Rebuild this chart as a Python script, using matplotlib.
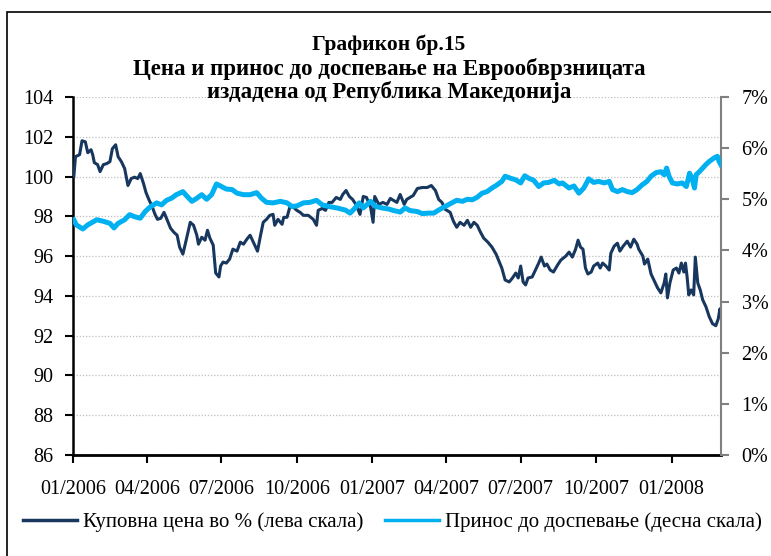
import matplotlib
matplotlib.use("Agg")
import matplotlib.pyplot as plt
import matplotlib.dates as mdates
from matplotlib.ticker import FuncFormatter
from matplotlib.lines import Line2D
import pandas as pd

plt.rcParams['font.family'] = ['Liberation Serif', 'DejaVu Serif']

title_lines = ["Графикон бр.15",
               "Цена и принос до доспевање на Еврообврзницата",
               "издадена од Република Македонија"]
price_label = "Куповна цена во % (лева скала)"
yield_label = "Принос до доспевање (десна скала)"

price_dates = [
    "2006-01-02", "2006-01-04", "2006-01-09", "2006-01-12", "2006-01-16", "2006-01-19", "2006-01-23", "2006-01-25",
    "2006-01-27", "2006-01-31", "2006-02-03", "2006-02-07", "2006-02-11", "2006-02-15", "2006-02-18", "2006-02-22",
    "2006-02-25", "2006-03-01", "2006-03-05", "2006-03-09", "2006-03-13", "2006-03-17", "2006-03-21", "2006-03-24",
    "2006-03-28", "2006-03-31", "2006-04-04", "2006-04-07", "2006-04-11", "2006-04-14", "2006-04-18", "2006-04-22",
    "2006-04-26", "2006-04-30", "2006-05-04", "2006-05-08", "2006-05-11", "2006-05-15", "2006-05-19", "2006-05-24",
    "2006-05-28", "2006-06-01", "2006-06-03", "2006-06-07", "2006-06-11", "2006-06-14", "2006-06-17", "2006-06-21",
    "2006-06-24", "2006-06-28", "2006-06-30", "2006-07-03", "2006-07-07", "2006-07-11", "2006-07-15", "2006-07-20",
    "2006-07-24", "2006-07-28", "2006-08-01", "2006-08-05", "2006-08-09", "2006-08-14", "2006-08-18", "2006-08-21",
    "2006-08-25", "2006-08-29", "2006-09-02", "2006-09-04", "2006-09-08", "2006-09-13", "2006-09-15", "2006-09-19",
    "2006-09-23", "2006-09-27", "2006-10-01", "2006-10-05", "2006-10-09", "2006-10-15", "2006-10-21", "2006-10-25",
    "2006-10-27", "2006-11-01", "2006-11-05", "2006-11-09", "2006-11-13", "2006-11-18", "2006-11-23", "2006-11-26",
    "2006-11-30", "2006-12-04", "2006-12-08", "2006-12-12", "2006-12-17", "2006-12-21", "2006-12-25", "2006-12-30",
    "2007-01-02", "2007-01-04", "2007-01-09", "2007-01-14", "2007-01-19", "2007-01-23", "2007-01-27", "2007-01-31",
    "2007-02-04", "2007-02-09", "2007-02-12", "2007-02-16", "2007-02-20", "2007-02-25", "2007-03-03", "2007-03-09",
    "2007-03-14", "2007-03-19", "2007-03-23", "2007-03-27", "2007-03-31", "2007-04-06", "2007-04-10", "2007-04-14",
    "2007-04-18", "2007-04-23", "2007-04-27", "2007-05-01", "2007-05-05", "2007-05-09", "2007-05-13", "2007-05-17",
    "2007-05-22", "2007-05-27", "2007-06-01", "2007-06-04", "2007-06-08", "2007-06-12", "2007-06-17", "2007-06-21",
    "2007-06-25", "2007-06-28", "2007-07-01", "2007-07-04", "2007-07-07", "2007-07-10", "2007-07-15", "2007-07-19",
    "2007-07-23", "2007-07-26", "2007-07-30", "2007-08-02", "2007-08-06", "2007-08-10", "2007-08-15", "2007-08-19",
    "2007-08-25", "2007-08-29", "2007-09-02", "2007-09-06", "2007-09-09", "2007-09-12", "2007-09-15", "2007-09-18",
    "2007-09-21", "2007-09-25", "2007-09-28", "2007-10-03", "2007-10-06", "2007-10-09", "2007-10-13", "2007-10-17",
    "2007-10-19", "2007-10-23", "2007-10-27", "2007-10-30", "2007-11-03", "2007-11-08", "2007-11-12", "2007-11-16",
    "2007-11-20", "2007-11-22", "2007-11-27", "2007-11-29", "2007-12-03", "2007-12-07", "2007-12-11", "2007-12-15",
    "2007-12-19", "2007-12-23", "2007-12-25", "2007-12-27", "2007-12-30", "2008-01-03", "2008-01-07", "2008-01-10",
    "2008-01-13", "2008-01-16", "2008-01-18", "2008-01-20", "2008-01-22", "2008-01-25", "2008-01-28", "2008-01-30",
    "2008-02-02", "2008-02-05", "2008-02-08", "2008-02-12", "2008-02-16", "2008-02-20", "2008-02-24", "2008-02-27",
    "2008-02-29", "2008-03-01",
]
price_values = [
    100.0, 101.0, 101.1, 101.8, 101.75, 101.2, 101.35, 101.1,
    100.7, 100.6, 100.25, 100.6, 100.65, 100.75, 101.4, 101.6,
    101.0, 100.75, 100.4, 99.55, 99.9, 99.97, 99.9, 100.15,
    99.65, 99.2, 98.8, 98.55, 98.1, 97.85, 97.9, 98.2,
    97.8, 97.4, 97.2, 97.05, 96.45, 96.1, 96.8, 97.7,
    97.55, 97.05, 96.6, 96.95, 96.8, 97.3, 96.9, 96.55,
    95.15, 94.95, 95.5, 95.7, 95.65, 95.85, 96.35, 96.25,
    96.7, 96.6, 96.85, 97.05, 96.7, 96.25, 97.1, 97.7,
    97.85, 98.05, 98.1, 97.55, 97.85, 97.6, 97.95, 97.95,
    98.55, 98.45, 98.3, 98.2, 98.05, 98.05, 97.85, 97.55,
    98.3, 98.4, 98.3, 98.7, 98.7, 98.95, 98.85, 99.1,
    99.3, 99.0, 98.85, 98.6, 98.1, 99.0, 98.95, 98.45,
    97.7, 99.0, 98.6, 98.7, 98.6, 98.9, 98.8, 98.7,
    99.1, 98.6, 98.85, 98.95, 99.05, 99.4, 99.45, 99.45,
    99.55, 99.3, 98.85, 98.7, 98.35, 98.2, 97.75, 97.45,
    97.7, 97.55, 97.8, 97.45, 97.7, 97.55, 97.2, 96.9,
    96.7, 96.45, 96.1, 95.8, 95.4, 94.8, 94.7, 94.9,
    95.15, 94.9, 95.5, 94.7, 94.55, 94.9, 94.95, 95.3,
    95.65, 95.95, 95.5, 95.6, 95.3, 95.2, 95.55, 95.8,
    96.0, 96.2, 95.95, 96.35, 96.8, 96.45, 96.35, 95.4,
    95.1, 95.2, 95.5, 95.65, 95.4, 95.65, 95.5, 95.3,
    96.15, 96.5, 96.65, 96.25, 96.5, 96.75, 96.45, 96.85,
    96.6, 96.35, 96.0, 95.6, 95.85, 95.1, 94.75, 94.4,
    94.15, 94.65, 95.1, 93.9, 94.65, 95.3, 95.4, 95.15,
    95.65, 95.2, 95.65, 94.95, 94.05, 94.3, 94.05, 95.95,
    94.65, 94.3, 93.8, 93.45, 92.95, 92.6, 92.5, 92.85,
    93.35, 93.1,
]

yield_dates = [
    "2006-01-02", "2006-01-05", "2006-01-13", "2006-01-19", "2006-01-30", "2006-02-07", "2006-02-15", "2006-02-20",
    "2006-02-25", "2006-03-05", "2006-03-11", "2006-03-17", "2006-03-24", "2006-03-30", "2006-04-05", "2006-04-13",
    "2006-04-19", "2006-04-25", "2006-05-01", "2006-05-07", "2006-05-15", "2006-05-20", "2006-05-26", "2006-06-01",
    "2006-06-07", "2006-06-13", "2006-06-19", "2006-06-25", "2006-07-01", "2006-07-07", "2006-07-14", "2006-07-20",
    "2006-07-28", "2006-08-05", "2006-08-13", "2006-08-19", "2006-08-25", "2006-09-02", "2006-09-11", "2006-09-19",
    "2006-09-25", "2006-10-01", "2006-10-09", "2006-10-17", "2006-10-25", "2006-11-01", "2006-11-09", "2006-11-19",
    "2006-11-29", "2006-12-05", "2006-12-11", "2006-12-16", "2006-12-21", "2006-12-30", "2007-01-05", "2007-01-13",
    "2007-01-21", "2007-01-27", "2007-02-04", "2007-02-10", "2007-02-16", "2007-02-25", "2007-03-03", "2007-03-11",
    "2007-03-17", "2007-03-23", "2007-03-31", "2007-04-08", "2007-04-14", "2007-04-21", "2007-04-27", "2007-05-03",
    "2007-05-09", "2007-05-15", "2007-05-21", "2007-05-27", "2007-06-02", "2007-06-08", "2007-06-12", "2007-06-19",
    "2007-06-25", "2007-07-01", "2007-07-06", "2007-07-11", "2007-07-17", "2007-07-23", "2007-07-29", "2007-08-04",
    "2007-08-11", "2007-08-17", "2007-08-21", "2007-08-29", "2007-09-04", "2007-09-10", "2007-09-16", "2007-09-22",
    "2007-09-28", "2007-10-04", "2007-10-11", "2007-10-17", "2007-10-21", "2007-10-27", "2007-11-02", "2007-11-08",
    "2007-11-14", "2007-11-20", "2007-11-26", "2007-12-02", "2007-12-07", "2007-12-13", "2007-12-19", "2007-12-23",
    "2007-12-26", "2007-12-29", "2008-01-02", "2008-01-08", "2008-01-14", "2008-01-19", "2008-01-23", "2008-01-26",
    "2008-01-29", "2008-01-31", "2008-02-04", "2008-02-08", "2008-02-12", "2008-02-16", "2008-02-22", "2008-02-26",
    "2008-02-28", "2008-03-01",
]
yield_values = [
    4.60, 4.50, 4.42, 4.50, 4.60, 4.57, 4.53, 4.44,
    4.53, 4.60, 4.70, 4.66, 4.63, 4.76, 4.85, 4.93,
    4.89, 4.98, 5.02, 5.09, 5.15, 5.06, 4.96, 5.02,
    5.09, 5.00, 5.09, 5.30, 5.25, 5.20, 5.19, 5.12,
    5.09, 5.09, 5.13, 5.02, 4.94, 4.93, 4.96, 4.93,
    4.86, 4.87, 4.93, 4.94, 4.98, 4.89, 4.86, 4.83,
    4.79, 4.73, 4.83, 4.93, 4.83, 4.96, 4.86, 4.83,
    4.81, 4.78, 4.75, 4.83, 4.78, 4.76, 4.72, 4.73,
    4.73, 4.79, 4.86, 4.93, 4.98, 4.96, 5.00, 4.99,
    5.04, 5.12, 5.15, 5.22, 5.28, 5.35, 5.45, 5.41,
    5.38, 5.32, 5.46, 5.41, 5.37, 5.25, 5.32, 5.33,
    5.37, 5.30, 5.32, 5.22, 5.26, 5.12, 5.22, 5.40,
    5.33, 5.35, 5.32, 5.35, 5.19, 5.15, 5.19, 5.15,
    5.13, 5.19, 5.28, 5.35, 5.45, 5.52, 5.54, 5.48,
    5.61, 5.45, 5.32, 5.30, 5.32, 5.25, 5.51, 5.41,
    5.22, 5.48, 5.54, 5.61, 5.68, 5.74, 5.81, 5.84,
    5.74, 5.68,
]

left_ticks = [86, 88, 90, 92, 94, 96, 98, 100, 102, 104]
right_ticks = [0, 1, 2, 3, 4, 5, 6, 7]
x_start, x_end = "2006-01-01", "2008-03-01"

price_color = "#17375E"
yield_color = "#00B0F0"

fig = plt.figure(figsize=(7.71, 5.56), dpi=100)
ax = fig.add_axes([0.0947, 0.1817, 0.8401, 0.6438])
ax2 = ax.twinx()

pd_dates = pd.to_datetime(price_dates)
yd_dates = pd.to_datetime(yield_dates)

ax.plot(pd_dates, price_values, color=price_color, lw=2.2, zorder=3,
        solid_joinstyle='round')
ax2.plot(yd_dates, yield_values, color=yield_color, lw=3.6, zorder=3,
         solid_joinstyle='round')

ax.set_xlim(pd.Timestamp(x_start), pd.Timestamp(x_end))
ax.set_ylim(left_ticks[0], left_ticks[-1])
ax.set_yticks(left_ticks)
ax2.set_ylim(right_ticks[0], right_ticks[-1])
ax2.set_yticks(right_ticks)
ax2.yaxis.set_major_formatter(FuncFormatter(lambda v, p: f"{int(v)}%"))

ax.xaxis.set_major_locator(mdates.MonthLocator(bymonth=[1, 4, 7, 10]))
ax.xaxis.set_major_formatter(mdates.DateFormatter("%m/%Y"))

ax.grid(axis='y', color='#BFBFBF', linestyle=(0, (1, 1.5)), lw=0.9)
ax.set_axisbelow(True)

for a in (ax, ax2):
    a.spines['top'].set_visible(False)
ax.spines['right'].set_visible(False)
ax2.spines['left'].set_visible(False)
ax2.spines['bottom'].set_visible(False)
ax.spines['left'].set_linewidth(1.8)
ax.spines['bottom'].set_linewidth(2.0)
ax2.spines['right'].set_color('#808080')
ax2.spines['right'].set_linewidth(1.5)

ax.tick_params(axis='y', direction='out', length=6, width=1.5, labelsize=14.5, pad=8)
ax.tick_params(axis='x', direction='out', length=6, width=1.5, labelsize=14.5, pad=12)
ax2.tick_params(axis='y', direction='out', length=6, width=1.5, color='#808080',
                labelsize=14.5, pad=9)

# title
fig.text(0.5045, 0.919, title_lines[0], ha='center', va='center', fontsize=15.5, fontweight='bold')
fig.text(0.5045, 0.875, title_lines[1], ha='center', va='center', fontsize=16.5, fontweight='bold')
fig.text(0.5045, 0.835, title_lines[2], ha='center', va='center', fontsize=16.5, fontweight='bold')

# outer frame
fig.patches.append(plt.Rectangle((0.0095, -0.05), 1.1, 1.028, transform=fig.transFigure,
                                 fill=False, edgecolor='black', lw=1.2, zorder=0))

hh = [Line2D([], [], color=price_color, lw=2.5), Line2D([], [], color=yield_color, lw=2.5)]
fig.legend(hh, [price_label, yield_label], loc='center', bbox_to_anchor=(0.509, 0.061),
           ncol=2, frameon=False, fontsize=15, handlelength=2.6, handletextpad=0.3,
           columnspacing=1.0, borderpad=0.2)

fig.savefig("out.png", dpi=100)
